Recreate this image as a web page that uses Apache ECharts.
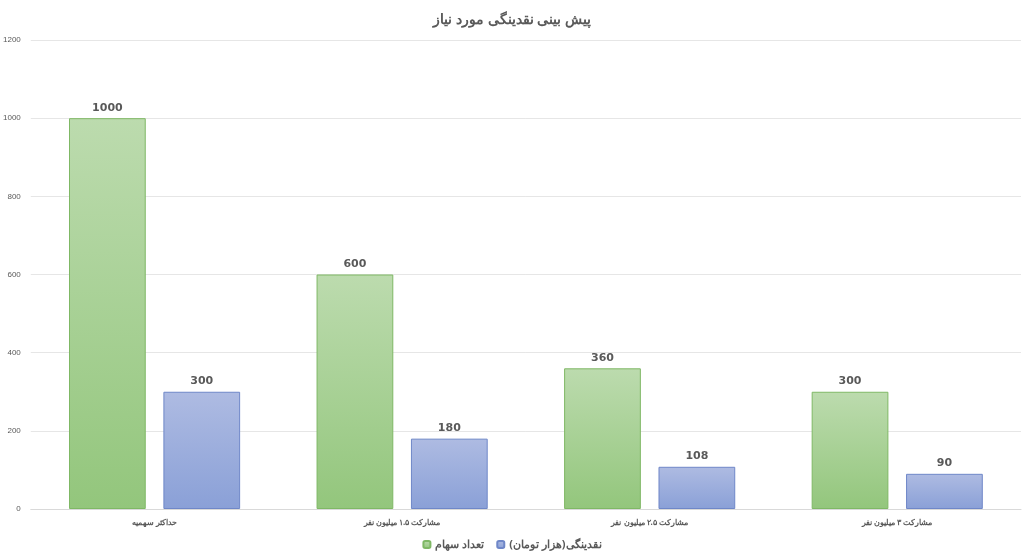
<!DOCTYPE html><html><head><meta charset="utf-8"><script src="https://cdn.jsdelivr.net/npm/echarts@6/dist/echarts.min.js"></script></head><body style="margin:0"><div id="c" style="width:1024px;height:557px"></div><script>
const categories=['حداکثر سهمیه','مشارکت ۱.۵ میلیون نفر','مشارکت ۲.۵ میلیون نفر','مشارکت ۳ میلیون نفر'];
const shares=[1000,600,360,300];
const liquidity=[300,180,108,90];
const seriesNames=['تعداد سهام','نقدینگی(هزار تومان)'];
const g=(a,b)=>new echarts.graphic.LinearGradient(0,0,0,1,[{offset:0,color:a},{offset:1,color:b}]);
const lab={show:true,position:'top',color:'#595959',fontWeight:'bold',fontSize:11,fontFamily:'DejaVu Sans'};
echarts.init(document.getElementById('c')).setOption({
animation:false,
title:{text:'پیش بینی نقدینگی مورد نیاز',left:'center',top:8,textStyle:{color:'#595959',fontSize:14,fontWeight:'bold',fontFamily:'Noto Sans'}},
legend:{bottom:2,itemWidth:7,itemHeight:7,itemGap:12,textStyle:{color:'#595959',fontSize:11,fontWeight:'bold',fontFamily:'Noto Sans'},data:seriesNames},
grid:{left:27,right:3,top:40,bottom:48},
xAxis:{type:'category',data:categories,axisTick:{show:false},axisLine:{lineStyle:{color:'#d9d9d9'}},axisLabel:{color:'#595959',fontSize:8,fontWeight:'bold',margin:10,fontFamily:'Noto Sans'}},
yAxis:{type:'value',min:0,max:1200,interval:200,axisLabel:{color:'#595959',fontSize:8,margin:10,formatter:v=>String(v)},splitLine:{lineStyle:{color:'#e6e6e6'}}},
series:[
{name:seriesNames[0],type:'bar',data:shares,barWidth:'31%',barGap:'23%',label:lab,itemStyle:{color:g('#bcdbae','#93c67c'),borderColor:'#7fb865',borderWidth:1}},
{name:seriesNames[1],type:'bar',data:liquidity,barWidth:'31%',label:lab,itemStyle:{color:g('#aebbe2','#8aa0d7'),borderColor:'#6f87c8',borderWidth:1}}
]});
</script></body></html>
